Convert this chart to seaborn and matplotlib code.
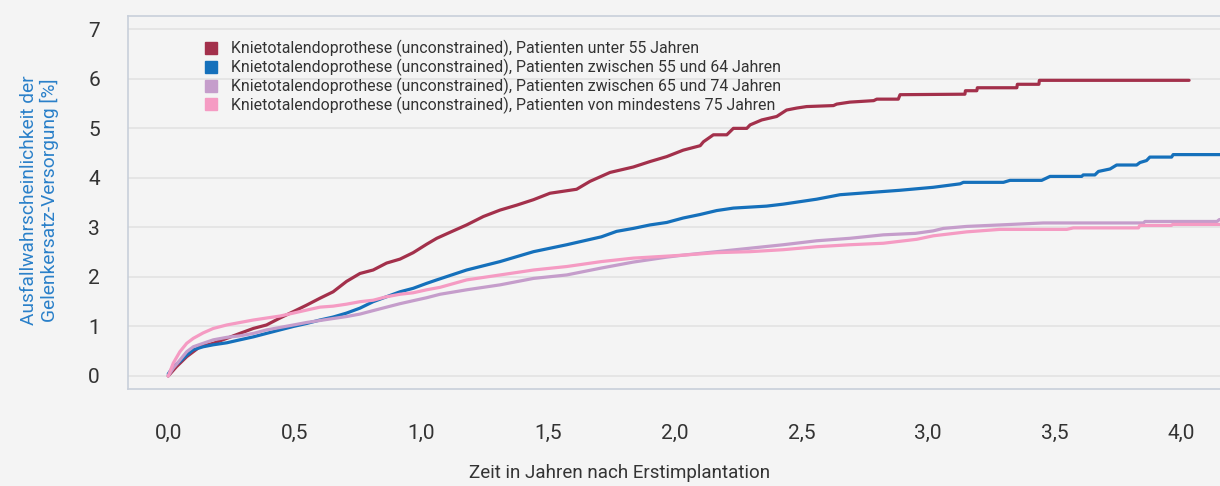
import seaborn as sns
import matplotlib.pyplot as plt
import pandas as pd
from matplotlib.lines import Line2D

# Kaplan-Meier style curves (years, %)
red_t = [0.0, 0.033, 0.073, 0.125, 0.178, 0.231, 0.283, 0.336, 0.388, 0.441, 0.494, 0.546,
         0.599, 0.651, 0.704, 0.757, 0.809, 0.862, 0.915, 0.967, 1.02, 1.06, 1.112, 1.178,
         1.244, 1.31, 1.376, 1.442, 1.507, 1.612, 1.665, 1.744, 1.836, 1.902, 1.968, 2.033,
         2.10, 2.113, 2.152, 2.205, 2.231, 2.284, 2.297, 2.343, 2.402, 2.441, 2.481, 2.52,
         2.626, 2.639, 2.691, 2.785, 2.797, 2.882, 2.889, 3.145, 3.147, 3.192, 3.194, 3.35,
         3.352, 3.437, 3.439, 4.03]
red_y = [0.0, 0.19, 0.39, 0.59, 0.66, 0.76, 0.86, 0.96, 1.03, 1.17, 1.30, 1.43,
         1.57, 1.70, 1.91, 2.07, 2.14, 2.28, 2.36, 2.49, 2.66, 2.78, 2.90, 3.05,
         3.22, 3.35, 3.45, 3.56, 3.69, 3.77, 3.93, 4.11, 4.22, 4.33, 4.43, 4.56,
         4.65, 4.73, 4.87, 4.87, 5.00, 5.00, 5.07, 5.17, 5.24, 5.37, 5.41, 5.44,
         5.46, 5.49, 5.53, 5.56, 5.59, 5.59, 5.68, 5.69, 5.76, 5.76, 5.82, 5.82,
         5.89, 5.89, 5.97, 5.97]

blue_t = [0.0, 0.02, 0.046, 0.073, 0.099, 0.138, 0.178, 0.231, 0.283, 0.336, 0.388, 0.441,
          0.494, 0.546, 0.599, 0.651, 0.704, 0.757, 0.809, 0.862, 0.915, 0.967, 1.02, 1.06,
          1.178, 1.31, 1.376, 1.442, 1.573, 1.71, 1.77, 1.836, 1.902, 1.968, 2.033, 2.099,
          2.165, 2.231, 2.362, 2.428, 2.494, 2.56, 2.652, 2.757, 2.889, 3.02, 3.126, 3.139,
          3.297, 3.323, 3.448, 3.481, 3.606, 3.612, 3.658, 3.672, 3.718, 3.744, 3.823, 3.836,
          3.862, 3.875, 3.961, 3.967, 4.20]
blue_y = [0.04, 0.19, 0.29, 0.42, 0.53, 0.59, 0.63, 0.67, 0.73, 0.79, 0.86, 0.93,
          1.00, 1.06, 1.13, 1.19, 1.27, 1.37, 1.50, 1.60, 1.70, 1.77, 1.87, 1.94,
          2.14, 2.31, 2.41, 2.51, 2.65, 2.81, 2.92, 2.98, 3.05, 3.10, 3.19, 3.26,
          3.34, 3.39, 3.43, 3.47, 3.52, 3.57, 3.66, 3.70, 3.75, 3.81, 3.88, 3.91,
          3.91, 3.95, 3.95, 4.03, 4.03, 4.06, 4.06, 4.13, 4.18, 4.26, 4.26, 4.31,
          4.35, 4.42, 4.42, 4.47, 4.47]

lav_t = [0.0, 0.02, 0.046, 0.073, 0.099, 0.138, 0.178, 0.231, 0.283, 0.336, 0.388, 0.441,
         0.494, 0.546, 0.599, 0.651, 0.704, 0.757, 0.809, 0.862, 0.915, 0.967, 1.02, 1.073,
         1.178, 1.31, 1.442, 1.573, 1.71, 1.836, 1.968, 2.033, 2.165, 2.297, 2.428, 2.56,
         2.691, 2.823, 2.95, 3.02, 3.06, 3.152, 3.283, 3.454, 3.85, 3.856, 4.14, 4.15]
lav_y = [0.0, 0.16, 0.32, 0.49, 0.59, 0.66, 0.73, 0.78, 0.81, 0.86, 0.93, 0.98,
         1.03, 1.08, 1.12, 1.16, 1.20, 1.25, 1.32, 1.39, 1.46, 1.52, 1.58, 1.65,
         1.74, 1.84, 1.97, 2.04, 2.18, 2.30, 2.40, 2.44, 2.51, 2.58, 2.65, 2.73,
         2.78, 2.85, 2.88, 2.93, 2.98, 3.02, 3.05, 3.09, 3.09, 3.12, 3.12, 3.16]

pink_t = [0.0, 0.02, 0.046, 0.073, 0.099, 0.138, 0.178, 0.231, 0.283, 0.336, 0.388, 0.441,
          0.494, 0.546, 0.599, 0.651, 0.704, 0.757, 0.809, 0.862, 0.915, 0.967, 1.02, 1.073,
          1.178, 1.31, 1.442, 1.573, 1.71, 1.836, 1.968, 2.033, 2.165, 2.297, 2.428, 2.56,
          2.691, 2.823, 2.889, 2.955, 3.02, 3.152, 3.283, 3.547, 3.573, 3.83, 3.835, 3.96,
          3.965, 4.20]
pink_y = [0.0, 0.26, 0.49, 0.66, 0.76, 0.87, 0.96, 1.03, 1.08, 1.13, 1.17, 1.21,
          1.27, 1.33, 1.39, 1.41, 1.45, 1.50, 1.53, 1.60, 1.65, 1.68, 1.74, 1.79,
          1.94, 2.04, 2.14, 2.21, 2.31, 2.38, 2.42, 2.44, 2.49, 2.51, 2.55, 2.61,
          2.65, 2.68, 2.72, 2.76, 2.83, 2.91, 2.96, 2.96, 2.99, 2.99, 3.04, 3.04,
          3.06, 3.06]

labels = [
    "Knietotalendoprothese (unconstrained), Patienten unter 55 Jahren",
    "Knietotalendoprothese (unconstrained), Patienten zwischen 55 und 64 Jahren",
    "Knietotalendoprothese (unconstrained), Patienten zwischen 65 und 74 Jahren",
    "Knietotalendoprothese (unconstrained), Patienten von mindestens 75 Jahren",
]
colors = ["#a3304b", "#1570bb", "#c59dcb", "#f59bc3"]

x_ticks = [0.0, 0.5, 1.0, 1.5, 2.0, 2.5, 3.0, 3.5, 4.0]
x_tick_labels = ["0,0", "0,5", "1,0", "1,5", "2,0", "2,5", "3,0", "3,5", "4,0"]
y_ticks = [0, 1, 2, 3, 4, 5, 6, 7]

frames = []
for lab, t, y in zip(labels, [red_t, blue_t, lav_t, pink_t], [red_y, blue_y, lav_y, pink_y]):
    frames.append(pd.DataFrame({"t": t, "y": y, "gruppe": lab}))
df = pd.concat(frames, ignore_index=True)

sns.set_style("white")
plt.rcParams["font.family"] = ["Roboto", "DejaVu Sans"]

bg = "#f4f4f4"
spine_c = "#c8cfda"
fig = plt.figure(figsize=(12.2, 4.86), dpi=100, facecolor=bg)
W, H = 1220, 486
ax_l, ax_t, ax_b = 127.7, 15.7, 389.0
ax = fig.add_axes([ax_l / W, (H - ax_b) / H, (W - ax_l) / W, (ax_b - ax_t) / H])
ax.set_facecolor(bg)

# horizontal grid only
for v in y_ticks:
    ax.axhline(v, color="#e3e3e3", lw=1.2, zorder=0)

sns.lineplot(data=df, x="t", y="y", hue="gruppe", palette=colors, sort=False,
             estimator=None, lw=2.3, legend=False, ax=ax, zorder=3)

ax.set_xlim(-0.160, 4.152)
ax.set_ylim(-0.263, 7.275)
ax.set_xticks(x_ticks)
ax.set_xticklabels(x_tick_labels)
ax.set_yticks(y_ticks)
ax.set_yticklabels([str(v) for v in y_ticks])
ax.tick_params(axis="both", colors=spine_c, labelcolor="#333333", labelsize=15,
               width=1.0, length=14)
ax.tick_params(axis="x", pad=11)
ax.tick_params(axis="y", pad=6)

for side in ["left", "bottom", "top"]:
    ax.spines[side].set_color(spine_c)
    ax.spines[side].set_linewidth(1.2)
ax.spines["right"].set_visible(False)

aw = W - ax_l
ah = ax_b - ax_t
ax.set_ylabel("Ausfallwahrscheinlichkeit der\nGelenkersatz-Versorgung [%]",
              color="#2a80c9", fontsize=13.8, linespacing=1.15)
ax.yaxis.set_label_coords((59 - ax_l) / aw, 0.505)
ax.set_xlabel("Zeit in Jahren nach Erstimplantation", color="#333333", fontsize=13.5)
ax.xaxis.set_label_coords((620 - ax_l) / aw, -(464 - ax_b) / ah)

handles = [Line2D([], [], marker="s", linestyle="none", markersize=8,
                  markerfacecolor=c, markeredgecolor=c) for c in colors]
leg = ax.legend(handles, labels, loc="upper left", bbox_to_anchor=(203 / W, 1 - 40 / H),
                bbox_transform=fig.transFigure, frameon=False, fontsize=11.4,
                borderpad=0, borderaxespad=0, labelspacing=0.1, handletextpad=0.75,
                handlelength=1.0)
for txt in leg.get_texts():
    txt.set_color("#333333")

fig.savefig("out.png", dpi=100, facecolor=bg)
